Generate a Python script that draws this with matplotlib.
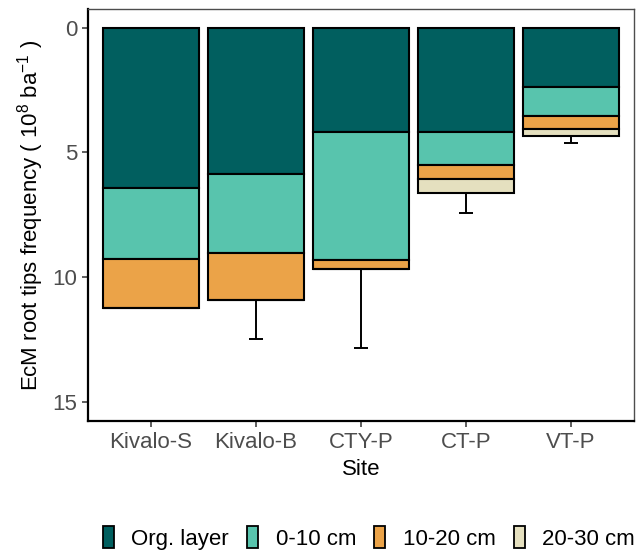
"""Stacked EcM root tip frequency by soil layer, inverted y axis."""

import matplotlib
matplotlib.use("Agg")
import matplotlib.pyplot as plt
import numpy as np
from matplotlib.patches import Patch

plt.rcParams["font.family"] = ["Liberation Sans", "DejaVu Sans"]
plt.rcParams["mathtext.default"] = "regular"

sites = ["Kivalo-S", "Kivalo-B", "CTY-P", "CT-P", "VT-P"]
layers = ["Org. layer", "0-10 cm", "10-20 cm", "20-30 cm"]
colors = ["#015F5F", "#58C4AD", "#EBA348", "#E5E0BF"]

# layer thickness per site (10^8 ba^-1)
org_layer = [6.41, 5.86, 4.18, 4.16, 2.37]
cm_0_10 = [2.87, 3.18, 5.14, 1.34, 1.16]
cm_10_20 = [1.98, 1.88, 0.37, 0.56, 0.53]
cm_20_30 = [0.00, 0.00, 0.00, 0.55, 0.28]
# standard error of the total (drawn downwards only)
total_se = [np.nan, 1.56, 3.16, 0.82, 0.28]

values = [org_layer, cm_0_10, cm_10_20, cm_20_30]

fig = plt.figure(figsize=(6.36, 5.53), dpi=100)
ax = fig.add_axes([88 / 636, 132 / 553, 546 / 636, 412 / 553])

x = np.arange(len(sites))
bottom = np.zeros(len(sites))
for vals, col in zip(values, colors):
    vals = np.array(vals)
    ax.bar(x, vals, bottom=bottom, width=0.92, color=col,
           edgecolor="black", linewidth=1.5, zorder=2)
    bottom += vals

totals = bottom
se = np.array(total_se)
ok = ~np.isnan(se)
ax.errorbar(x[ok], totals[ok], yerr=[np.zeros(ok.sum()), se[ok]],
            fmt="none", ecolor="black", elinewidth=1.4, capsize=5,
            capthick=1.4, zorder=1)

ax.set_xlim(-0.6, 4.6)
ax.set_ylim(15.78, -0.76)
ax.set_yticks([0, 5, 10, 15])
ax.set_xticks(x)
ax.set_xticklabels(sites)

ax.tick_params(axis="both", labelsize=16, labelcolor="#4D4D4D",
               color="#333333", length=4, width=1.1)
ax.tick_params(axis="x", pad=4)
ax.set_xlabel("Site", fontsize=16, labelpad=4)
ax.set_ylabel("EcM root tips frequency ( 10$^{8}$ ba$^{-1}$ )",
              fontsize=16, labelpad=5)

for side in ["left", "bottom"]:
    ax.spines[side].set_color("black")
    ax.spines[side].set_linewidth(1.6)
for side in ["top", "right"]:
    ax.spines[side].set_color("#4D4D4D")
    ax.spines[side].set_linewidth(1.0)

handles = [Patch(facecolor=c, edgecolor="black", linewidth=1.3, label=l)
           for c, l in zip(colors, layers)]
fig.legend(handles=handles, loc="center", bbox_to_anchor=(0.58, 0.027),
           ncol=4, frameon=False, fontsize=16, handlelength=0.5,
           handleheight=1.1, handletextpad=0.8, columnspacing=0.8)

fig.savefig("out.png", dpi=100)
plt.close(fig)
